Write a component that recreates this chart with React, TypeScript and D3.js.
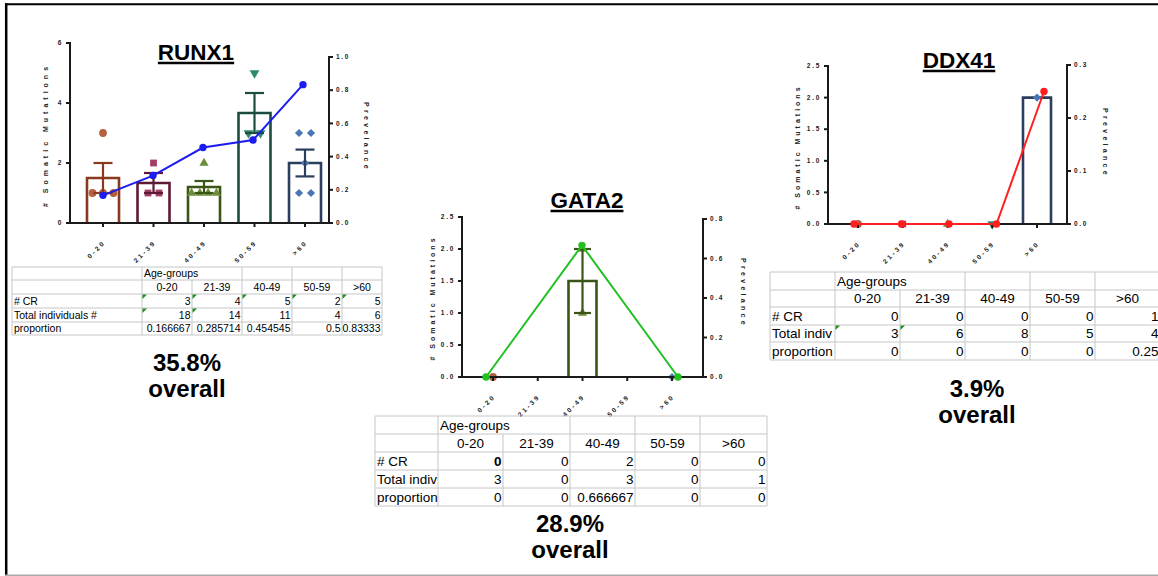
import React, { useLayoutEffect, useRef, useState } from 'react';
import * as d3 from 'd3';

const FONT = '"Liberation Sans", Arial, Helvetica, sans-serif';

// ---------- shared data ----------
const categories = ['0-20', '21-39', '40-49', '50-59', '>60'];
const rowLabelsShort = ['# CR', 'Total indiv', 'proportion'];
const rowLabelsLong = ['# CR', 'Total individuals #', 'proportion'];

// ---------- RUNX1 ----------
const runx1Mutations: number[][] = [[3, 1, 1, 1], [2, 1, 1], [2, 1, 1, 1, 1], [5, 3, 3], [3, 3, 2, 1, 1]];
const runx1PrevalenceCats = ['0-20', '21-39', '40-49', '50-59', '>60'];
const runx1Prevalence = [0.166667, 0.285714, 0.454545, 0.5, 0.833333];
const runx1LeftTicks = [0, 2, 4, 6];
const runx1RightTicks = [0, 0.2, 0.4, 0.6, 0.8, 1.0];
const runx1CR = [3, 4, 5, 2, 5];
const runx1Total = [18, 14, 11, 4, 6];
const runx1Proportion = [0.166667, 0.285714, 0.454545, 0.5, 0.833333];
const runx1Overall = '35.8%';

// ---------- GATA2 ----------
const gata2Mutations: number[][] = [[0], [], [2, 1], [], [0]];
const gata2PrevalenceCats = ['0-20', '40-49', '>60'];
const gata2Prevalence = [0, 0.666667, 0];
const gata2LeftTicks = [0, 0.5, 1, 1.5, 2, 2.5];
const gata2RightTicks = [0, 0.2, 0.4, 0.6, 0.8];
const gata2CR = [0, 0, 2, 0, 0];
const gata2Total = [3, 0, 3, 0, 1];
const gata2Proportion = [0, 0, 0.666667, 0, 0];
const gata2Overall = '28.9%';

// ---------- DDX41 ----------
const ddx41Mutations: number[][] = [[0], [0], [0], [0], [2]];
const ddx41PrevalenceCats = ['0-20', '21-39', '40-49', '50-59', '>60'];
const ddx41Prevalence = [0, 0, 0, 0, 0.25];
const ddx41LeftTicks = [0, 0.5, 1, 1.5, 2, 2.5];
const ddx41RightTicks = [0, 0.1, 0.2, 0.3];
const ddx41CR = [0, 0, 0, 0, 1];
const ddx41Total = [3, 6, 8, 5, 4];
const ddx41Proportion = [0, 0, 0, 0, 0.25];
const ddx41Overall = '3.9%';

// ---------- styles ----------
const barStroke = ['#8a3a1c', '#5c1a37', '#3b5517', '#1b4e40', '#2a3e5e'];
const pointFill = ['#b5603f', '#a33d66', '#6c8e3a', '#2e8a6c', '#4a77b4'];
const symbolDefs = [
  { type: d3.symbolCircle, size: 48, rot: 0, spacing: 10.5 },
  { type: d3.symbolSquare, size: 46, rot: 0, spacing: 11 },
  { type: d3.symbolTriangle, size: 36, rot: 0, spacing: 8.3 },
  { type: d3.symbolTriangle, size: 42, rot: 180, spacing: 12 },
  { type: d3.symbolSquare, size: 34, rot: 45, spacing: 12 },
];

type Layout = {
  axL: number; axR: number; base: number; topL: number; topR: number;
  cat0: number; cat1: number; line0: number; line1: number;
  barW: number; capW: number;
  titleX: number; titleY: number;
  leftTitleX: number; leftTitleY: number; leftTitleLS: number;
  rightTitleX: number; rightTitleY: number;
  leftFmt: string;
};

const runx1Layout: Layout = {
  axL: 70, axR: 329, base: 223, topL: 43, topR: 57, cat0: 103, cat1: 305, line0: 103, line1: 303,
  barW: 32, capW: 19, titleX: 196, titleY: 60, leftTitleX: 48, leftTitleY: 135, leftTitleLS: 4,
  rightTitleX: 364, rightTitleY: 137, leftFmt: 'd',
};
const gata2Layout: Layout = {
  axL: 462, axR: 703, base: 377, topL: 217, topR: 219, cat0: 493, cat1: 672, line0: 486, line1: 678,
  barW: 28, capW: 17, titleX: 587, titleY: 208, leftTitleX: 435, leftTitleY: 298, leftTitleLS: 3,
  rightTitleX: 741, rightTitleY: 293, leftFmt: '.1f',
};
const ddx41Layout: Layout = {
  axL: 828, axR: 1067, base: 224, topL: 66, topR: 65, cat0: 858, cat1: 1037, line0: 854, line1: 1044,
  barW: 28, capW: 17, titleX: 959, titleY: 68, leftTitleX: 800, leftTitleY: 147, leftTitleLS: 3,
  rightTitleX: 1103, rightTitleY: 143, leftFmt: '.1f',
};

function swarm(values: number[], spacing: number) {
  const sorted = [...values].sort((a, b) => b - a);
  const groups = d3.group(sorted, (v) => v);
  const out: { v: number; dx: number }[] = [];
  groups.forEach((arr, v) => arr.forEach((_, k) => out.push({ v, dx: (k - (arr.length - 1) / 2) * spacing })));
  return out;
}

function Title({ x, y, text }: { x: number; y: number; text: string }) {
  const ref = useRef<SVGTextElement>(null);
  const [w, setW] = useState(0);
  useLayoutEffect(() => {
    if (ref.current) setW(ref.current.getComputedTextLength());
  }, [text]);
  return (
    <g>
      <text ref={ref} x={x} y={y} textAnchor="middle" fontFamily={FONT} fontWeight="bold" fontSize={22.5} fill="#000">
        {text}
      </text>
      {w > 0 && <line x1={x - w / 2} x2={x + w / 2} y1={y + 3} y2={y + 3} stroke="#000" strokeWidth={2.3} />}
    </g>
  );
}

function Panel(props: {
  layout: Layout; title: string; mutations: number[][]; prevCats: string[]; prevalence: number[];
  lineColor: string; leftTicks: number[]; rightTicks: number[];
}) {
  const { layout: L, title, mutations, prevCats, prevalence, lineColor, leftTicks, rightTicks } = props;
  const x = d3.scalePoint<string>().domain(categories).range([L.cat0, L.cat1]);
  const xLine = d3.scalePoint<string>().domain(categories).range([L.line0, L.line1]);
  const yL = d3.scaleLinear().domain([0, d3.max(leftTicks)!]).range([L.base, L.topL]);
  const yR = d3.scaleLinear().domain([0, d3.max(rightTicks)!]).range([L.base, L.topR]);
  const fmtL = d3.format(L.leftFmt);
  const fmtR = d3.format('.1f');
  const linePts: [number, number][] = prevCats.map((c, i) => [xLine(c)!, yR(prevalence[i])]);
  const lineGen = d3.line();

  const stats = mutations.map((v) => {
    const n = v.length;
    const mean = n ? d3.mean(v)! : 0;
    const sem = n > 1 ? d3.deviation(v)! / Math.sqrt(n) : 0;
    return { n, mean, sem };
  });

  const tickStyle = { fontFamily: FONT, fontWeight: 'bold' as const, fontSize: 6.5, fill: '#222' };

  return (
    <g>
      <Title x={L.titleX} y={L.titleY} text={title} />

      {/* bars */}
      {categories.map((c, i) => {
        const s = stats[i];
        if (s.mean <= 0) return null;
        const cx = x(c)!;
        const x0 = cx - L.barW / 2;
        const x1 = cx + L.barW / 2;
        return (
          <path key={'bar' + c} d={`M${x0},${L.base} V${yL(s.mean)} H${x1} V${L.base}`}
            fill="#fff" stroke={barStroke[i]} strokeWidth={2.6} />
        );
      })}

      {/* points */}
      {categories.map((c, i) => {
        const sd = symbolDefs[i];
        const p = d3.symbol().type(sd.type).size(sd.size)()!;
        return swarm(mutations[i], sd.spacing).map((pt, k) => (
          <path key={'pt' + c + k} d={p} fill={pointFill[i]}
            transform={`translate(${x(c)! + pt.dx},${yL(pt.v)}) rotate(${sd.rot})`} />
        ));
      })}

      {/* error bars */}
      {categories.map((c, i) => {
        const s = stats[i];
        if (s.sem <= 0) return null;
        const cx = x(c)!;
        const lo = yL(s.mean - s.sem);
        const hi = yL(s.mean + s.sem);
        return (
          <g key={'err' + c} stroke={barStroke[i]} strokeWidth={2.2}>
            <line x1={cx} x2={cx} y1={lo} y2={hi} />
            <line x1={cx - L.capW / 2} x2={cx + L.capW / 2} y1={hi} y2={hi} />
            <line x1={cx - L.capW / 2} x2={cx + L.capW / 2} y1={lo} y2={lo} />
          </g>
        );
      })}

      {/* axes */}
      <g stroke="#1a1a1a" strokeWidth={2}>
        <line x1={L.axL} x2={L.axL} y1={L.base + 1} y2={L.topL - 1} />
        <line x1={L.axR} x2={L.axR} y1={L.base + 1} y2={L.topR - 1} />
        <line x1={L.axL} x2={L.axR} y1={L.base} y2={L.base} />
        {leftTicks.map((t) => (
          <line key={'lt' + t} x1={L.axL - 4} x2={L.axL} y1={yL(t)} y2={yL(t)} />
        ))}
        {rightTicks.map((t) => (
          <line key={'rt' + t} x1={L.axR} x2={L.axR + 4} y1={yR(t)} y2={yR(t)} />
        ))}
        {categories.map((c) => (
          <line key={'xt' + c} x1={x(c)!} x2={x(c)!} y1={L.base} y2={L.base + 4} />
        ))}
      </g>

      {leftTicks.map((t) => (
        <text key={'ll' + t} x={L.axL - 7} y={yL(t)} dy="0.35em" textAnchor="end" letterSpacing={1.7} {...tickStyle}>
          {fmtL(t)}
        </text>
      ))}
      {rightTicks.map((t) => (
        <text key={'rl' + t} x={L.axR + 7} y={yR(t)} dy="0.35em" textAnchor="start" letterSpacing={1.7} {...tickStyle}>
          {fmtR(t)}
        </text>
      ))}
      {categories.map((c) => (
        <text key={'xl' + c} transform={`translate(${x(c)! + 3},${L.base + 20}) rotate(-45)`} textAnchor="end"
          letterSpacing={2.4} {...tickStyle}>
          {c}
        </text>
      ))}

      {/* axis titles */}
      <text transform={`translate(${L.leftTitleX},${L.leftTitleY}) rotate(-90)`} textAnchor="middle"
        fontFamily={FONT} fontWeight="bold" fontSize={7} letterSpacing={L.leftTitleLS} fill="#222">
        # Somatic Mutations
      </text>
      <text transform={`translate(${L.rightTitleX},${L.rightTitleY}) rotate(90)`} textAnchor="middle"
        fontFamily={FONT} fontWeight="bold" fontSize={7} letterSpacing={3.3} fill="#222">
        Prevelance
      </text>

      {/* prevalence line */}
      <path d={lineGen(linePts)!} fill="none" stroke={lineColor} strokeWidth={2} />
      {linePts.map((p, i) => (
        <circle key={'lp' + i} cx={p[0]} cy={p[1]} r={3.7} fill={lineColor} />
      ))}
    </g>
  );
}

// Excel "General"-style formatting: up to 6 decimals, fewer when the cell is too narrow
function fmtGeneral(v: number, cellW: number, fs: number) {
  const est = (s: string) => s.split('').reduce((a, ch) => a + (ch === '.' ? 0.278 : 0.556), 0) * fs;
  for (let d = 6; d >= 0; d--) {
    const s = String(+v.toFixed(d));
    if (est(s) <= cellW - 1.5) return s;
  }
  return String(Math.round(v));
}

function Table(props: {
  cols: number[]; rows: number[]; fs: number; labels: string[];
  cr: number[]; total: number[]; prop: number[];
  greens: [number, number][]; bolds: [number, number][];
}) {
  const { cols, rows, fs, labels, cr, total, prop, greens, bolds } = props;
  const grid = '#c6c6c6';
  const cy = (r: number) => (rows[r] + rows[r + 1]) / 2 + fs * 0.36;
  const cellW = (c: number) => cols[c + 2] - cols[c + 1];
  const dataRows = [cr.map(String), total.map(String), prop.map((v, c) => fmtGeneral(v, cellW(c), fs))];
  const isBold = (r: number, c: number) => bolds.some(([br, bc]) => br === r && bc === c);
  const txt = { fontFamily: FONT, fontSize: fs, fill: '#000' };
  return (
    <g>
      {rows.map((y, i) => (
        <line key={'h' + i} x1={cols[0]} x2={cols[cols.length - 1]} y1={y} y2={y} stroke={grid} strokeWidth={1} />
      ))}
      {cols.map((xv, ci) =>
        rows.slice(0, -1).map((y, ri) => {
          if (ri === 0 && ci === 2) return null;
          return <line key={'v' + ci + '_' + ri} x1={xv} x2={xv} y1={y} y2={rows[ri + 1]} stroke={grid} strokeWidth={1} />;
        })
      )}
      <text x={cols[1] + 2} y={cy(0)} {...txt}>Age-groups</text>
      {categories.map((c, i) => (
        <text key={'hc' + c} x={(cols[i + 1] + cols[i + 2]) / 2} y={cy(1)} textAnchor="middle" {...txt}>{c}</text>
      ))}
      {labels.map((l, r) => (
        <text key={'rl' + r} x={cols[0] + 2} y={cy(r + 2)} {...txt}>{l}</text>
      ))}
      {dataRows.map((row, r) =>
        row.map((v, c) => (
          <text key={'d' + r + '_' + c} x={cols[c + 2] - 1.5} y={cy(r + 2)} textAnchor="end" {...txt}
            fontWeight={isBold(r + 2, c) ? 'bold' : 'normal'}>
            {v}
          </text>
        ))
      )}
      {greens.map(([r, c], i) => {
        const gx = cols[c + 1] + 0.5;
        const gy = rows[r] + 0.5;
        return <path key={'g' + i} d={`M${gx},${gy} h4.5 L${gx},${gy + 4.5} Z`} fill="#1e8c1e" />;
      })}
    </g>
  );
}

function Overall({ x, y, text }: { x: number; y: number; text: string }) {
  const st = { fontFamily: FONT, fontWeight: 'bold' as const, fontSize: 24, fill: '#000', textAnchor: 'middle' as const };
  return (
    <g>
      <text x={x} y={y} {...st}>{text}</text>
      <text x={x} y={y + 25.5} {...st}>overall</text>
    </g>
  );
}

export default function App() {
  return (
    <svg width={1158} height={576} style={{ position: 'absolute', left: 0, top: 0, background: '#fff' }}>
      <rect x={0} y={0} width={1158} height={576} fill="#fff" />
      {/* frame */}
      <line x1={5} x2={1158} y1={4.3} y2={4.3} stroke="#000" strokeWidth={2} />
      <line x1={6.2} x2={6.2} y1={3.3} y2={575} stroke="#000" strokeWidth={2.5} />
      <line x1={5} x2={1158} y1={575.3} y2={575.3} stroke="#aaa" strokeWidth={1.4} />

      <Panel layout={runx1Layout} title="RUNX1" mutations={runx1Mutations} prevCats={runx1PrevalenceCats}
        prevalence={runx1Prevalence} lineColor="#1c1cf0" leftTicks={runx1LeftTicks} rightTicks={runx1RightTicks} />
      <Panel layout={gata2Layout} title="GATA2" mutations={gata2Mutations} prevCats={gata2PrevalenceCats}
        prevalence={gata2Prevalence} lineColor="#22c022" leftTicks={gata2LeftTicks} rightTicks={gata2RightTicks} />
      <Panel layout={ddx41Layout} title="DDX41" mutations={ddx41Mutations} prevCats={ddx41PrevalenceCats}
        prevalence={ddx41Prevalence} lineColor="#ff1f1f" leftTicks={ddx41LeftTicks} rightTicks={ddx41RightTicks} />

      <Table cols={[12, 142, 192, 242, 292, 342, 382]} rows={[267, 280, 294, 308, 322, 335]} fs={10.5}
        labels={rowLabelsLong} cr={runx1CR} total={runx1Total} prop={runx1Proportion}
        greens={[[2, 0], [2, 1], [2, 2], [2, 3], [2, 4], [3, 0], [3, 1]]} bolds={[]} />
      <Table cols={[375, 438, 503, 570, 635, 700, 767]} rows={[416, 434, 452, 470, 488, 506]} fs={13.5}
        labels={rowLabelsShort} cr={gata2CR} total={gata2Total} prop={gata2Proportion}
        greens={[]} bolds={[[2, 0]]} />
      <Table cols={[770, 835, 900, 965, 1030, 1095, 1160]} rows={[272, 290, 307, 325, 342, 360]} fs={13.5}
        labels={rowLabelsShort} cr={ddx41CR} total={ddx41Total} prop={ddx41Proportion}
        greens={[[3, 0], [3, 1]]} bolds={[]} />

      <Overall x={187} y={371} text={runx1Overall} />
      <Overall x={570} y={532} text={gata2Overall} />
      <Overall x={977} y={397} text={ddx41Overall} />
    </svg>
  );
}
